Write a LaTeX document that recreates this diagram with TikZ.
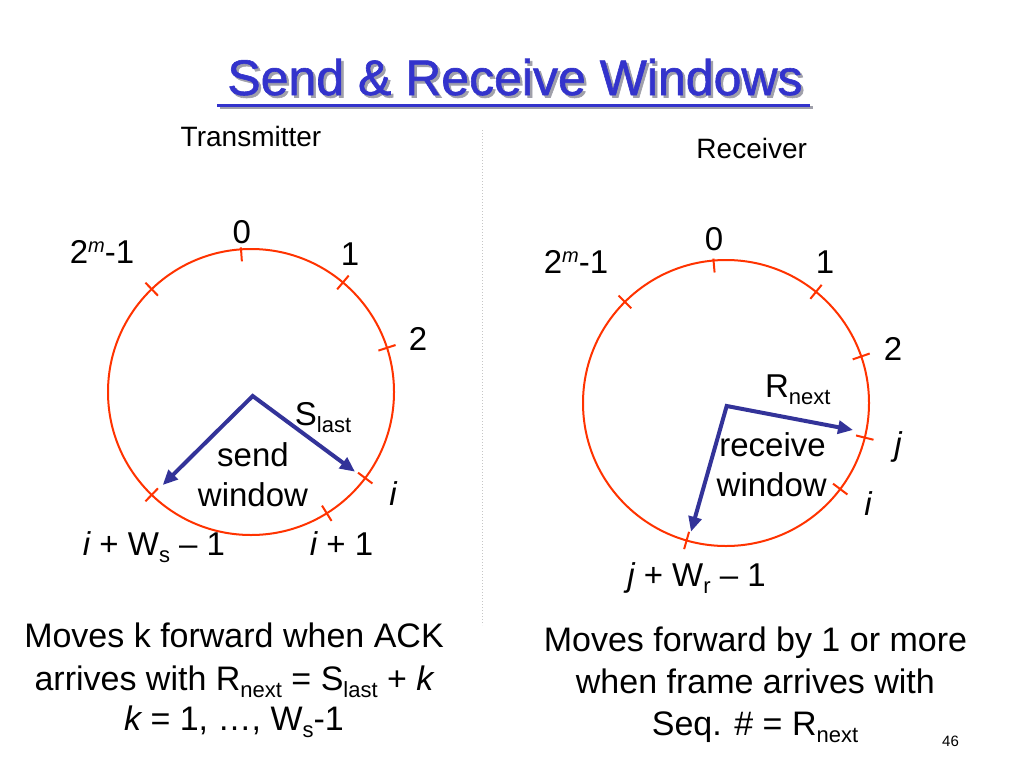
\documentclass[tikz,border=0pt]{standalone}
\usepackage{fontspec}
\setmainfont{Liberation Sans}
\newfontfamily\ttlfont[FakeBold=1.2]{Liberation Sans}
\usetikzlibrary{arrows.meta,calc}
\definecolor{ringcol}{RGB}{255,51,0}
\definecolor{ptrcol}{RGB}{51,51,153}
\definecolor{ttlcol}{RGB}{51,51,204}
\definecolor{shadecol}{RGB}{160,160,170}
\newcommand\lbsub[1]{\raisebox{-7pt}{\fontsize{22}{22}\selectfont #1}}
\newcommand\lbsup[1]{\raisebox{11pt}{\fontsize{20}{20}\selectfont\itshape #1}}
\newcommand\ttltext{Send \& Receive Windows}
\begin{document}
\begin{tikzpicture}[x=1pt,y=-1pt,
  lbl/.style={font=\fontsize{33}{40}\selectfont, anchor=base, inner sep=0pt},
  body/.style={font=\fontsize{34}{40}\selectfont, anchor=base, inner sep=0pt},
  side/.style={font=\fontsize{28}{34}\selectfont, anchor=base, inner sep=0pt},
  ringline/.style={draw=ringcol, line width=2pt},
  tickmark/.style={draw=ringcol, line width=2pt},
  pointer/.style={draw=ptrcol, line width=4pt, line join=miter,
    {Triangle[length=15pt,width=13pt]}-{Triangle[length=15pt,width=13pt]}},
  titlefont/.style={font=\ttlfont\fontsize{50}{60}\selectfont, anchor=base, inner sep=0pt},
]
\useasboundingbox (0,0) rectangle (1024,768);
\fill[white] (0,0) rectangle (1024,768);

% title with shadow (shadow set inside the same node)
\draw[shadecol, line width=3pt] (219.5,107.5) -- (812.5,107.5);
\draw[ttlcol, line width=3pt] (217,105) -- (810,105);
\node[titlefont, text=ttlcol] (title) at (515,95)
  {\rlap{\hspace{2.5pt}\raisebox{-2.5pt}{\color{shadecol}\ttltext}}\ttltext};

% headings
\node[side] (tx) at (251,146.7) {Transmitter};
\node[side] (rx) at (751.7,158) {Receiver};

% separator
\draw[gray!45, line width=1pt, dotted] (482,130) -- (482,625);

% ---------- transmitter circle ----------
\coordinate (cl) at (251,392);
\draw[ringline] (cl) circle[radius=143];
\draw[tickmark] ($(cl)+(-94:131)$) -- ($(cl)+(-94:145)$);
\foreach \a in {50,134,18,-37,-58,-134}
  \draw[tickmark] ($(cl)+({-\a}:134)$) -- ($(cl)+({-\a}:152)$);
\coordinate (ol) at (252.7,396);
\coordinate (tl1) at (162.7,485);
\coordinate (tl2) at (355,471.7);
\draw[pointer] (tl1) -- (ol) -- (tl2);

\node[lbl] (l0) at (241.7,243) {0};
\node[lbl] (lm) at (102,263) {2\lbsup{m}-1};
\node[lbl] (l1) at (350,265) {1};
\node[lbl] (l2) at (418,350) {2};
\node[lbl] (ls) at (323,425) {S\lbsub{last}};
\node[lbl] (lsend) at (253,466) {send};
\node[lbl] (lwin) at (253,506) {window};
\node[lbl] (li) at (393,505) {\itshape i};
\node[lbl] (li1) at (341.5,555) {{\itshape i} + 1};
\node[lbl] (liw) at (154,555) {{\itshape i} + W\lbsub{s} – 1};

% ---------- receiver circle ----------
\coordinate (cr) at (726,403);
\draw[ringline] (cr) circle[radius=143];
\draw[tickmark] ($(cr)+(-95:131)$) -- ($(cr)+(-95:145)$);
\foreach \a in {51,135,19,-14,-37,-106}
  \draw[tickmark] ($(cr)+({-\a}:134)$) -- ($(cr)+({-\a}:152)$);
\coordinate (or) at (726.7,406);
\coordinate (tr1) at (853,430);
\coordinate (tr2) at (691,531.7);
\draw[pointer] (tr1) -- (or) -- (tr2);

\node[lbl] (r0) at (714,250) {0};
\node[lbl] (rm) at (576,273) {2\lbsup{m}-1};
\node[lbl] (r1) at (825,273) {1};
\node[lbl] (r2) at (893,360) {2};
\node[lbl] (rn) at (797.7,397) {R\lbsub{next}};
\node[lbl] (rj) at (898,455) {\itshape j};
\node[lbl] (rrec) at (772.5,456) {receive};
\node[lbl] (rwin) at (771.7,496) {window};
\node[lbl] (ri) at (868,515) {\itshape i};
\node[lbl] (rjw) at (696.5,586) {{\itshape j} + W\lbsub{r} – 1};

% ---------- bottom texts ----------
\node[body] (bl1) at (234,647) {Moves k forward when ACK};
\node[body] (bl2) at (234,690) {arrives with R\lbsub{next} = S\lbsub{last} + {\itshape k}};
\node[body] (bl3) at (234,730) {{\itshape k} = 1, …, W\lbsub{s}-1};
\node[body] (br1) at (755.4,651.7) {Moves forward by 1 or more};
\node[body] (br2) at (755.4,693) {when frame arrives with};
\node[body] (br3) at (755,735) {Seq. \# = R\lbsub{next}};
\node[font=\fontsize{15}{18}\selectfont, anchor=base, inner sep=0pt] (pg) at (950.5,746.7) {46};
\end{tikzpicture}
\end{document}
